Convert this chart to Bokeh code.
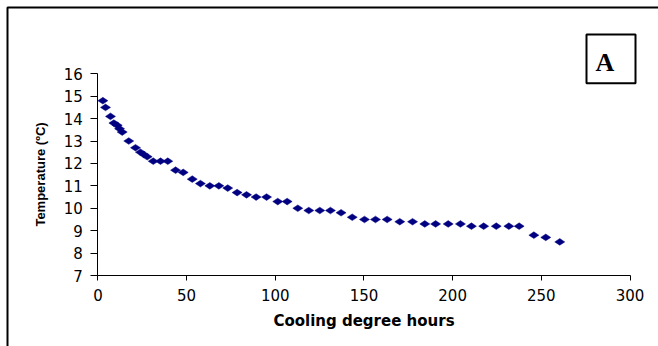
from bokeh.plotting import figure
from bokeh.models import Range1d, FixedTicker, Label, BoxAnnotation
from bokeh.embed import file_html
from bokeh.resources import INLINE

# Data
cooling_degree_hours = [2.8, 4.3, 7.1, 9.0, 10.9, 12.2, 13.7, 17.4, 21.2, 24.0, 25.9, 27.8,
                        31.2, 35.3, 39.4, 43.8, 48.1, 53.2, 57.8, 63.1, 68.2, 73.2, 78.5,
                        83.8, 89.2, 95.1, 101.4, 106.7, 112.7, 118.9, 125.1, 131.1, 137.1,
                        143.4, 150.3, 156.5, 163.1, 170.2, 177.4, 184.3, 190.4, 197.5, 204.4,
                        210.6, 217.5, 224.6, 231.7, 237.5, 245.8, 252.5, 260.4]
temperature = [14.8, 14.5, 14.1, 13.8, 13.7, 13.55, 13.4, 13.0, 12.7, 12.5, 12.4, 12.3,
               12.1, 12.1, 12.1, 11.7, 11.6, 11.3, 11.1, 11.0, 11.0, 10.9, 10.7,
               10.6, 10.5, 10.5, 10.3, 10.3, 10.0, 9.9, 9.9, 9.9, 9.8,
               9.6, 9.5, 9.5, 9.5, 9.4, 9.4, 9.3, 9.3, 9.3, 9.3,
               9.2, 9.2, 9.2, 9.2, 9.2, 8.8, 8.7, 8.5]
x_ticks = [0, 50, 100, 150, 200, 250, 300]
y_ticks = [7, 8, 9, 10, 11, 12, 13, 14, 15, 16]
x_title = "Cooling degree hours"
y_title = "Temperature (ºC)"
panel_letter = "A"

W, H = 658, 346
# pixel placement of the axes inside the canvas
x0_px, x300_px = 97.4, 629.5
y7_px, y16_px = 275.0, 73.3
xs = (x300_px - x0_px) / 300.0
ys = (y7_px - y16_px) / 9.0

p = figure(width=W, height=H, output_backend="svg", toolbar_location=None,
           x_range=Range1d(-x0_px / xs, (W - x0_px) / xs),
           y_range=Range1d(7 - (H - y7_px) / ys, 7 + y7_px / ys),
           min_border_left=0, min_border_right=0, min_border_top=0, min_border_bottom=0)
p.background_fill_color = "white"
p.border_fill_color = "white"
p.outline_line_color = None
p.grid.visible = False

p.scatter(cooling_degree_hours, temperature, marker="diamond", size=10, angle=1.5708,
          fill_color="#000080", line_color="#000080", line_width=0.5)

for ax in (p.xaxis[0], p.yaxis[0]):
    ax.axis_line_color = "black"
    ax.major_tick_line_color = "black"
    ax.minor_tick_line_color = None
    ax.major_tick_in = 0
    ax.major_label_text_font = "DejaVu Sans"
    ax.major_label_text_font_size = "15px"
    ax.major_label_text_color = "black"
    ax.axis_label_text_color = "black"
    ax.axis_label_text_font_style = "bold"

p.xaxis[0].ticker = FixedTicker(ticks=x_ticks)
p.yaxis[0].ticker = FixedTicker(ticks=y_ticks)
p.xaxis[0].bounds = (x_ticks[0], x_ticks[-1])
p.yaxis[0].bounds = (y_ticks[0], y_ticks[-1])
p.xaxis[0].fixed_location = y_ticks[0]
p.yaxis[0].fixed_location = x_ticks[0]
p.xaxis[0].major_tick_out = 5
p.yaxis[0].major_tick_out = 7
p.xaxis[0].major_label_standoff = 8
p.yaxis[0].major_label_standoff = 8

p.xaxis[0].axis_label = x_title
p.xaxis[0].axis_label_text_font = "DejaVu Sans"
p.xaxis[0].axis_label_text_font_size = "15px"
p.xaxis[0].axis_label_standoff = 8
p.yaxis[0].axis_label = y_title
p.yaxis[0].axis_label_text_font = "Liberation Sans"
p.yaxis[0].axis_label_text_font_size = "13px"
p.yaxis[0].axis_label_standoff = 12

# outer frame (runs past the right and bottom edges of the picture)
p.add_layout(BoxAnnotation(left=7, right=W + 50, top=H - 7, bottom=-50,
                           left_units="screen", right_units="screen",
                           top_units="screen", bottom_units="screen",
                           fill_color=None, fill_alpha=0,
                           line_color="black", line_alpha=1, line_width=2))

# panel letter box
p.add_layout(BoxAnnotation(left=586, right=635, top=H - 34, bottom=H - 82.7,
                           left_units="screen", right_units="screen",
                           top_units="screen", bottom_units="screen",
                           fill_color="white", fill_alpha=1,
                           line_color="black", line_alpha=1, line_width=2))
p.add_layout(Label(x=595, y=H - 62.2, x_units="screen", y_units="screen", text=panel_letter,
                   text_font="Liberation Serif", text_font_style="bold",
                   text_font_size="26px", text_color="black",
                   text_baseline="alphabetic", text_align="left"))

open("out.html", "w").write(file_html(p, INLINE))
